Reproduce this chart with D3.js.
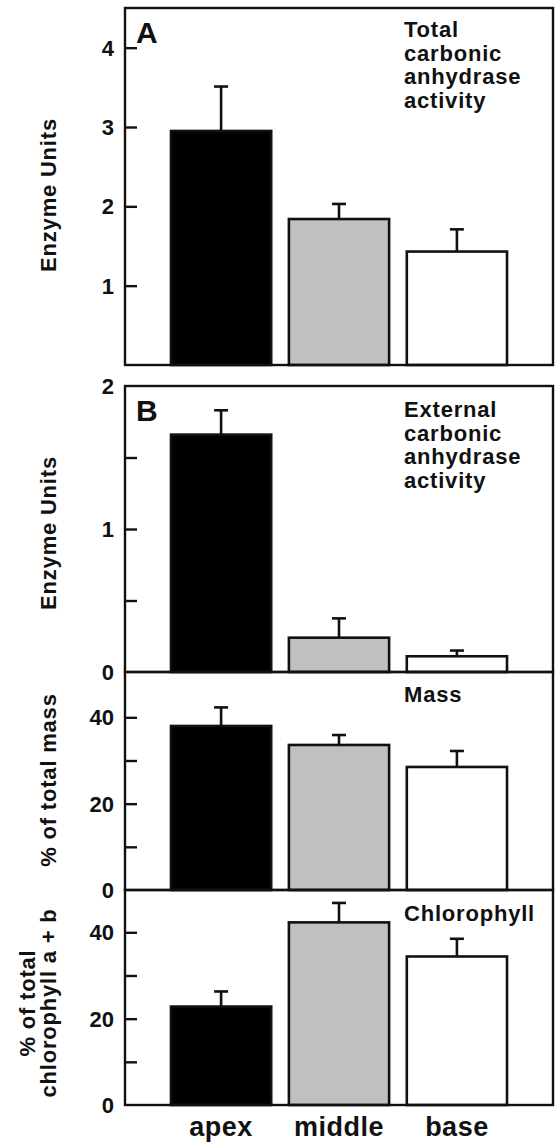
<!DOCTYPE html>
<html>
<head>
<meta charset="utf-8">
<script src="https://cdn.jsdelivr.net/npm/d3@7"></script>
<style>
  html, body { margin: 0; padding: 0; background: #fff; }
  svg { display: block; }
  text { font-family: "Liberation Sans", Arial, Helvetica, sans-serif; font-weight: bold; fill: #111; }
</style>
</head>
<body>
<svg id="chart" width="556" height="1142"></svg>
<script>
// data
const categories = ["apex", "middle", "base"];
const barFills = ["#000000", "#c0c0c0", "#ffffff"];

const totalCA = [2.95, 1.84, 1.43];
const totalCAErr = [0.56, 0.19, 0.28];

const externalCA = [1.66, 0.24, 0.11];
const externalCAErr = [0.17, 0.135, 0.04];

const massPct = [38.0, 33.6, 28.5];
const massErr = [4.3, 2.3, 3.7];

const chlPct = [22.8, 42.3, 34.4];
const chlErr = [3.5, 4.5, 4.1];

const svg = d3.select("#chart");
const left = 125, right = 553;

const x = d3.scaleBand()
  .domain(categories)
  .range([left, right])
  .paddingInner(0.15)
  .paddingOuter(0.39);

const panels = [
  { top: 8, bottom: 365, max: 4.5, values: totalCA, errs: totalCAErr,
    ticks: [1, 2, 3, 4], labels: [1, 2, 3, 4], letter: "A",
    note: ["Total", "carbonic", "anhydrase", "activity"], noteY: 37,
    title: ["Enzyme Units"], titleY: 195 },
  { top: 386, bottom: 672, max: 2, values: externalCA, errs: externalCAErr,
    ticks: [0.5, 1, 1.5], labels: [0, 1, 2], letter: "B",
    note: ["External", "carbonic", "anhydrase", "activity"], noteY: 417,
    title: ["Enzyme Units"], titleY: 533 },
  { top: 672, bottom: 890, max: 50.5, values: massPct, errs: massErr,
    ticks: [10, 20, 30, 40], labels: [0, 20, 40],
    note: ["Mass"], noteY: 702,
    title: ["% of total mass"], titleY: 780 },
  { top: 890, bottom: 1105, max: 49.8, values: chlPct, errs: chlErr,
    ticks: [10, 20, 30, 40], labels: [0, 20, 40],
    note: ["Chlorophyll"], noteY: 921,
    title: ["% of total", "chlorophyll a + b"], titleY: 1003 }
];

panels.forEach(p => {
  const y = d3.scaleLinear().domain([0, p.max]).range([p.bottom, p.top]);
  const g = svg.append("g");

  // bars
  g.selectAll("rect.bar")
    .data(p.values)
    .join("rect")
    .attr("class", "bar")
    .attr("x", (d, i) => x(categories[i]))
    .attr("y", d => y(d))
    .attr("width", x.bandwidth())
    .attr("height", d => y(0) - y(d))
    .attr("fill", (d, i) => barFills[i])
    .attr("stroke", "#111")
    .attr("stroke-width", 2.6);

  // error bars (upper only)
  const cap = 7;
  p.values.forEach((v, i) => {
    const cx = x(categories[i]) + x.bandwidth() / 2;
    g.append("line")
      .attr("x1", cx).attr("x2", cx)
      .attr("y1", y(v)).attr("y2", y(v + p.errs[i]))
      .attr("stroke", "#111").attr("stroke-width", 2.6);
    g.append("line")
      .attr("x1", cx - cap).attr("x2", cx + cap)
      .attr("y1", y(v + p.errs[i])).attr("y2", y(v + p.errs[i]))
      .attr("stroke", "#111").attr("stroke-width", 2.6);
  });

  // frame
  g.append("rect")
    .attr("x", left).attr("y", p.top)
    .attr("width", right - left).attr("height", p.bottom - p.top)
    .attr("fill", "none").attr("stroke", "#111").attr("stroke-width", 2.4);

  // inward ticks
  const axis = d3.axisLeft(y)
    .tickValues(p.ticks)
    .tickSizeInner(-12)
    .tickSizeOuter(0)
    .tickFormat("");
  const ag = g.append("g").attr("transform", `translate(${left},0)`).call(axis);
  ag.select(".domain").remove();
  ag.selectAll(".tick line").attr("stroke", "#111").attr("stroke-width", 2.4);

  // tick labels
  g.selectAll("text.tl")
    .data(p.labels)
    .join("text")
    .attr("class", "tl")
    .attr("x", 114)
    .attr("y", d => y(d))
    .attr("dy", "0.36em")
    .attr("text-anchor", "end")
    .attr("font-size", 22)
    .text(d => d);

  // panel letter
  if (p.letter) {
    g.append("text")
      .attr("x", 136).attr("y", p.top + 35)
      .attr("font-size", 30)
      .text(p.letter);
  }

  // annotation
  p.note.forEach((t, i) => {
    g.append("text")
      .attr("x", 404).attr("y", p.noteY + i * 23.7)
      .attr("font-size", 22)
      .attr("letter-spacing", 0.8)
      .text(t);
  });

  // y title
  const n = p.title.length;
  p.title.forEach((t, i) => {
    const tx = 48 - (n - 1 - i) * 21;
    g.append("text")
      .attr("transform", `translate(${tx},${p.titleY}) rotate(-90)`)
      .attr("text-anchor", "middle")
      .attr("dominant-baseline", "central")
      .attr("font-size", 22)
      .attr("letter-spacing", 0.8)
      .text(t);
  });
});

// category labels
svg.selectAll("text.cat")
  .data(categories)
  .join("text")
  .attr("class", "cat")
  .attr("x", d => x(d) + x.bandwidth() / 2)
  .attr("y", 1136)
  .attr("text-anchor", "middle")
  .attr("font-size", 27)
  .attr("letter-spacing", 0.5)
  .text(d => d);
</script>
</body>
</html>
